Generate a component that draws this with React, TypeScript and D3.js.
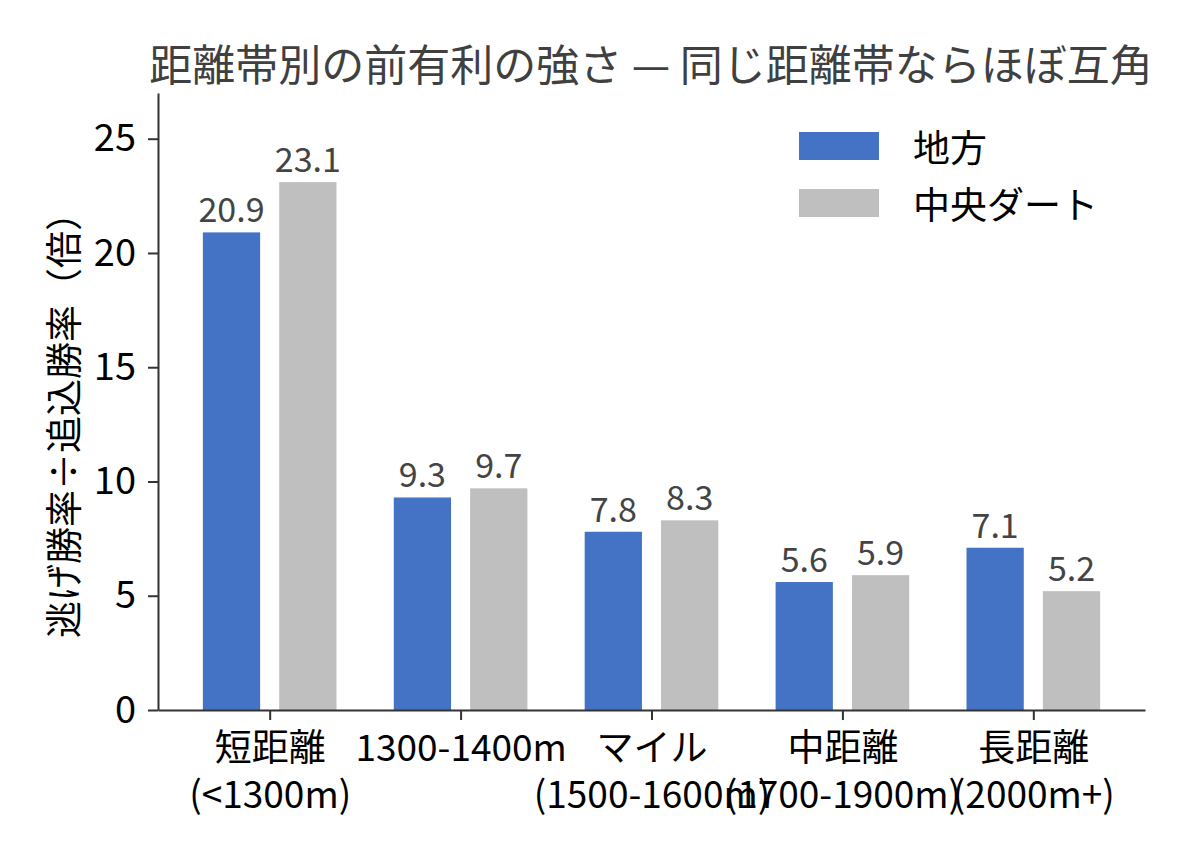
import React, { useEffect, useRef } from 'react';
import * as d3 from 'd3';

const categories = [
  '短距離\n(<1300m)',
  '1300-1400m',
  'マイル\n(1500-1600m)',
  '中距離\n(1700-1900m)',
  '長距離\n(2000m+)',
];
const seriesNames = ['地方', '中央ダート'];
const chihou = [20.9, 9.3, 7.8, 5.6, 7.1];
const chuoDirt = [23.1, 9.7, 8.3, 5.9, 5.2];
const yTicks = [0, 5, 10, 15, 20, 25];
const colors = ['#4472C4', '#BFBFBF'];

const FONT = '"Noto Sans CJK JP", "Noto Sans", sans-serif';

export default function App() {
  const svgRef = useRef<SVGSVGElement>(null);

  useEffect(() => {
    document.body.style.margin = '0';
    const w = 1188;
    const h = 858;
    const svg = d3.select(svgRef.current).attr('width', w).attr('height', h);
    svg.selectAll('*').remove();

    // scales
    const x = d3.scaleLinear().domain([-0.585, 4.585]).range([158, 1145]);
    const y = d3.scaleLinear().domain([0, 27]).range([710, 93]);
    const bw = 0.3;
    const off = 0.2;

    // title
    svg
      .append('text')
      .attr('x', 651)
      .attr('y', 62)
      .attr('text-anchor', 'middle')
      .attr('dominant-baseline', 'central')
      .style('font-family', FONT)
      .style('font-size', '43px')
      .style('fill', '#404040')
      .text('距離帯別の前有利の強さ — 同じ距離帯ならほぼ互角');

    // bars
    const series = [chihou, chuoDirt];
    series.forEach((vals, si) => {
      const dx = si === 0 ? -off : off;
      const g = svg.append('g');
      g.selectAll('rect')
        .data(vals)
        .join('rect')
        .attr('x', (d, i) => x(i + dx - bw / 2))
        .attr('width', x(bw) - x(0))
        .attr('y', (d) => y(d))
        .attr('height', (d) => y(0) - y(d))
        .attr('fill', colors[si]);
      g.selectAll('text')
        .data(vals)
        .join('text')
        .attr('x', (d, i) => x(i + dx))
        .attr('y', (d) => y(d) - 10)
        .attr('text-anchor', 'middle')
        .style('font-family', FONT)
        .style('font-size', '34px')
        .style('fill', '#444444')
        .text((d) => d.toFixed(1));
    });

    // y axis
    const yAxis = d3
      .axisLeft(y)
      .tickValues(yTicks)
      .tickSize(10)
      .tickSizeOuter(0)
      .tickPadding(12);
    const yg = svg.append('g').attr('transform', 'translate(158,0)').call(yAxis);
    yg.select('.domain').attr('stroke', '#333').attr('stroke-width', 2);
    yg.selectAll('.tick line').attr('stroke', '#333').attr('stroke-width', 2);
    yg.selectAll('.tick text')
      .style('font-family', FONT)
      .style('font-size', '38px')
      .style('fill', '#000');

    // x axis
    const xAxis = d3
      .axisBottom(x)
      .tickValues(d3.range(categories.length))
      .tickSize(10)
      .tickSizeOuter(0)
      .tickFormat(() => '');
    const xg = svg.append('g').attr('transform', 'translate(0,710)').call(xAxis);
    xg.select('.domain').attr('stroke', '#333').attr('stroke-width', 2);
    xg.selectAll('.tick line').attr('stroke', '#333').attr('stroke-width', 2);
    xg.selectAll('.tick text').each(function (d: any) {
      const t = d3.select(this);
      t.attr('y', 51)
        .attr('dy', null)
        .style('font-family', FONT)
        .style('font-size', '37px')
        .style('fill', '#000');
      categories[d].split('\n').forEach((line, li) => {
        t.append('tspan')
          .attr('x', 0)
          .attr('dy', li === 0 ? 0 : 47)
          .text(line);
      });
    });

    // y label
    svg
      .append('text')
      .attr('transform', 'translate(62,416) rotate(-90)')
      .attr('text-anchor', 'middle')
      .attr('dominant-baseline', 'central')
      .style('font-family', FONT)
      .style('font-size', '37px')
      .style('fill', '#000')
      .text('逃げ勝率÷追込勝率（倍）');

    // legend
    const lg = svg.append('g');
    seriesNames.forEach((name, i) => {
      lg.append('rect')
        .attr('x', 799)
        .attr('y', 132 + i * 57)
        .attr('width', 80)
        .attr('height', 28)
        .attr('fill', colors[i]);
      lg.append('text')
        .attr('x', 913)
        .attr('y', 146 + i * 57)
        .attr('dominant-baseline', 'central')
        .style('font-family', FONT)
        .style('font-size', '37px')
        .style('fill', '#000')
        .text(name);
    });
  }, []);

  return <svg ref={svgRef} style={{ display: 'block', background: '#fff' }}></svg>;
}
